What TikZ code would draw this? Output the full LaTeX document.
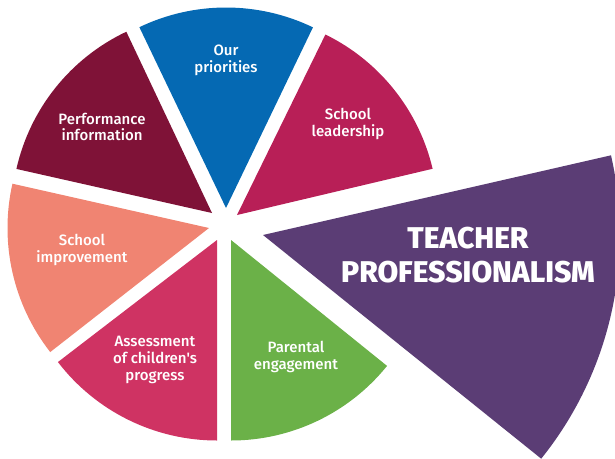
\documentclass[tikz,border=0pt]{standalone}
\usepackage{fontspec}
\setmainfont{Fira Sans}
\newfontfamily\labfont{Fira Sans Medium}
\newfontfamily\bigfont{Fira Sans ExtraBold}
\definecolor{cblue}{HTML}{0569B3}
\definecolor{ccrim}{HTML}{B81F57}
\definecolor{cpurp}{HTML}{5B3D75}
\definecolor{cgreen}{HTML}{6BB148}
\definecolor{cpink}{HTML}{CF3363}
\definecolor{csalm}{HTML}{F08472}
\definecolor{cmar}{HTML}{7F1237}
\tikzset{
  x=1pt,y=-1pt,
  lab/.style={text=white,align=center,inner sep=0pt,font=\labfont\fontsize{15}{16.8}\selectfont},
  big/.style={text=white,align=center,inner sep=0pt,font=\bigfont\fontsize{30}{34}\selectfont},
}
\newcommand{\wedgeat}[5]{\fill[#1] (#2) -- ++(#4:#3pt) arc[start angle=#4,end angle=#5,radius=#3pt] -- cycle;}
\begin{document}
\begin{tikzpicture}
\useasboundingbox (0,0) rectangle (615,458);
\clip (0,0) rectangle (615,458);
\coordinate (a1) at (226,208);
\coordinate (a2) at (237,215);
\coordinate (a3) at (263,235);
\coordinate (a4) at (231,240);
\coordinate (a5) at (217,240);
\coordinate (a6) at (209,228);
\coordinate (a7) at (212,213);
\wedgeat{cblue}{a1}{200.5}{115.6}{64.3}
\wedgeat{ccrim}{a2}{201}{63.9}{13.3}
\wedgeat{cpurp}{a3}{357}{12.9}{-38.8}
\wedgeat{cgreen}{a4}{200.5}{-38.9}{-90}
\wedgeat{cpink}{a5}{200.5}{-90}{-142.5}
\wedgeat{csalm}{a6}{201.5}{218}{167.3}
\wedgeat{cmar}{a7}{200.5}{167.3}{115.3}
\node[lab] (n1) at (226,60.5) {Our\\priorities};
\node[lab] (n2) at (348,124) {School\\leadership};
\node[big] (n3) at (468,255) {TEACHER\\PROFESSIONALISM};
\node[lab] (n4) at (296,357) {Parental\\engagement};
\node[lab] (n5) at (155,360) {Assessment\\of children's\\progress};
\node[lab] (n6) at (82,250) {School\\improvement};
\node[lab] (n7) at (102,127) {Performance\\information};
\end{tikzpicture}
\end{document}
